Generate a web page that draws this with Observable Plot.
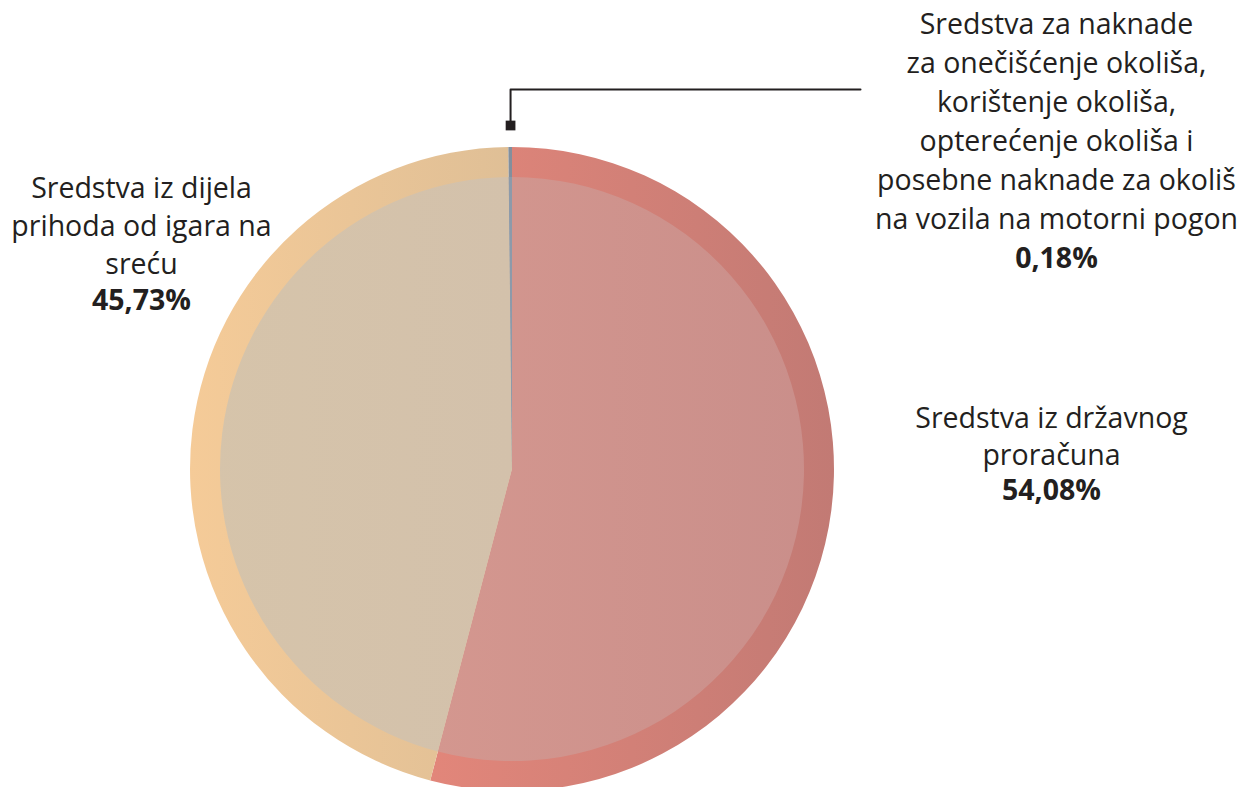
<!DOCTYPE html>
<html>
<head>
<meta charset="utf-8">
<script src="https://cdn.jsdelivr.net/npm/d3@7"></script>
<script src="https://cdn.jsdelivr.net/npm/@observablehq/plot@0.6"></script>
<style>
  html, body { margin: 0; padding: 0; background: #fff; }
  #chart { width: 1254px; height: 787px; }
</style>
</head>
<body>
<div id="chart"></div>
<script>
// ---- data ----
const categories = [
  "Sredstva iz državnog proračuna",
  "Sredstva iz dijela prihoda od igara na sreću",
  "Sredstva za naknade za onečišćenje okoliša, korištenje okoliša, opterećenje okoliša i posebne naknade za okoliš na vozila na motorni pogon"
];
const shares = [54.08, 45.73, 0.18];
const shareLabels = ["54,08%", "45,73%", "0,18%"];
const labelLines = [
  ["Sredstva iz državnog", "proračuna"],
  ["Sredstva iz dijela", "prihoda od igara na", "sreću"],
  ["Sredstva za naknade", "za onečišćenje okoliša,", "korištenje okoliša,", "opterećenje okoliša i", "posebne naknade za okoliš", "na vozila na motorni pogon"]
];

// ---- styling / layout (not data) ----
const W = 1254, H = 787;
const cx = 512, cy = 469, rOuter = 322, rInner = 292;
const ringGrad = [["#e2867a", "#c27a74"], ["#f5cb98", "#dfbf96"], ["#838f9d", "#838f9d"]];
const discGrad = [["#d4978f", "#c98e8a"], ["#d6c4aa", "#d3c1ab"], ["#8d9aaa", "#8d9aaa"]];
const gradX = [[430, 834], [190, 512], [500, 520]];
const labelPos = [
  {x: 1051, y: 427, lh: 37, pctDy: -2},
  {x: 141, y: 197, lh: 38, pctDy: -2},
  {x: 1056, y: 33, lh: 39, pctDy: 0}
];
const FONT = "'Open Sans', 'Noto Sans', sans-serif";
const INK = "#231f20";
const FS = 28.5;

const pieData = categories.map((c, i) => ({category: c, value: shares[i], i}));
const arcs = d3.pie().sort(null).value(d => d.value)(pieData);

// text rows
const textRows = [];
const pctRows = [];
labelLines.forEach((lines, i) => {
  const p = labelPos[i];
  lines.forEach((t, j) => textRows.push({x: p.x, y: p.y + j * p.lh, text: t}));
  pctRows.push({x: p.x, y: p.y + lines.length * p.lh + p.pctDy, text: shareLabels[i]});
});

// leader line for the smallest slice
const small = arcs[2];
const midA = (small.startAngle + small.endAngle) / 2;
const lx = cx + Math.sin(midA) * (rOuter + 22);
const ly = cy - Math.cos(midA) * (rOuter + 22);
const leader = [{x: lx, y: ly}, {x: lx, y: 89}, {x: 860, y: 89}];

function pieMark(index, scales, values, dims) {
  const ns = "http://www.w3.org/2000/svg";
  const g = document.createElementNS(ns, "g");
  const defs = document.createElementNS(ns, "defs");
  g.appendChild(defs);
  const px = scales.x(cx), py = scales.y(cy);
  g.setAttribute("transform", `translate(${px},${py})`);
  const mk = (id, stops, xs) => {
    const lg = document.createElementNS(ns, "linearGradient");
    lg.setAttribute("id", id);
    lg.setAttribute("gradientUnits", "userSpaceOnUse");
    lg.setAttribute("x1", scales.x(xs[0]) - px); lg.setAttribute("x2", scales.x(xs[1]) - px);
    lg.setAttribute("y1", 0); lg.setAttribute("y2", 0);
    stops.forEach((c, k) => {
      const s = document.createElementNS(ns, "stop");
      s.setAttribute("offset", k);
      s.setAttribute("stop-color", c);
      lg.appendChild(s);
    });
    defs.appendChild(lg);
  };
  const outer = d3.arc().innerRadius(0).outerRadius(rOuter);
  const inner = d3.arc().innerRadius(0).outerRadius(rInner);
  arcs.forEach((a, i) => {
    mk("ring" + i, ringGrad[i], gradX[i]);
    mk("disc" + i, discGrad[i], gradX[i]);
  });
  arcs.forEach((a, i) => {
    const p = document.createElementNS(ns, "path");
    p.setAttribute("d", outer(a));
    p.setAttribute("fill", `url(#ring${i})`);
    g.appendChild(p);
  });
  arcs.forEach((a, i) => {
    const p = document.createElementNS(ns, "path");
    p.setAttribute("d", inner(a));
    p.setAttribute("fill", `url(#disc${i})`);
    g.appendChild(p);
  });
  return g;
}

const chart = Plot.plot({
  width: W,
  height: H,
  margin: 0,
  x: {domain: [0, W], range: [0, W], axis: null},
  y: {domain: [0, H], range: [0, H], axis: null},
  style: {fontFamily: FONT, background: "#fff"},
  marks: [
    pieMark,
    Plot.line(leader, {x: "x", y: "y", stroke: INK, strokeWidth: 2, curve: "linear"}),
    Plot.dot([leader[0]], {x: "x", y: "y", symbol: "square", r: 5.5, fill: INK, stroke: "none"}),
    Plot.text(textRows, {x: "x", y: "y", text: "text", textAnchor: "middle", lineAnchor: "bottom",
      fontSize: FS, fill: INK, fontFamily: FONT}),
    Plot.text(pctRows, {x: "x", y: "y", text: "text", textAnchor: "middle", lineAnchor: "bottom",
      fontSize: FS, fontWeight: "bold", fontVariant: "tabular-nums", fill: INK, fontFamily: FONT})
  ]
});
document.getElementById("chart").appendChild(chart);
</script>
</body>
</html>
